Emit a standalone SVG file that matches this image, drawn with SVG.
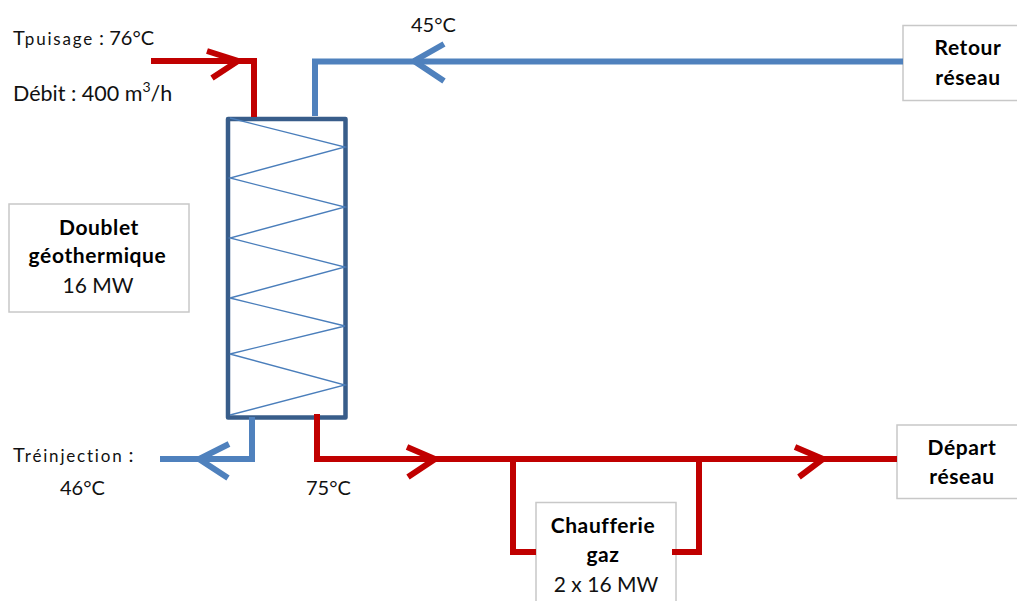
<svg xmlns="http://www.w3.org/2000/svg" width="1017" height="601" viewBox="0 0 1017 601">
<style>
text{font-family:Lato,"Liberation Sans",sans-serif;font-size:20px;fill:#111}
.b{font-size:21px;font-weight:700;text-anchor:middle;fill:#000;letter-spacing:.6px}
.m{font-size:21px;text-anchor:middle}
.s{font-size:17px;letter-spacing:1.800px}
.d{font-size:21.500px}
.sup{font-size:14px}
.box{fill:#fff;stroke:#c8c8c8;stroke-width:1.5}
.red,.blue{fill:none;stroke-width:6}
.red{stroke:#c00000}
.blue{stroke:#4f81bd}
.zig{fill:none;stroke:#4a7ebb;stroke-width:1.3}
.hx{fill:#fff;stroke:#385d8a;stroke-width:4.500;stroke-linejoin:round}
</style>
<g id="exchanger">
<rect class="hx" x="228" y="119" width="117.500" height="298.500"/>
<path class="zig" d="M230 118L345 147L230 178L345 207L230 238L345 267L230 298L345 326L230 354L345 385L230 415"/>
</g>
<g id="doublet">
<rect class="box" x="9" y="204" width="180" height="108"/>
<text class="b" x="99" y="235">Doublet</text>
<text class="b" x="97.500" y="263">géothermique</text>
<text class="m" x="98" y="293">16 MW</text>
</g>
<g id="retour">
<rect class="box" x="903" y="25.500" width="120" height="75"/>
<text class="b" x="968" y="55">Retour</text>
<text class="b" x="968" y="85">réseau</text>
</g>
<g id="depart">
<rect class="box" x="897" y="425" width="125" height="73.500"/>
<text class="b" x="962" y="455">Départ</text>
<text class="b" x="962" y="484">réseau</text>
</g>
<g id="chaufferie">
<rect class="box" x="536" y="502.500" width="140" height="105"/>
<text class="b" x="603" y="533">Chaufferie</text>
<text class="b" x="603" y="562">gaz</text>
<text class="m" x="606" y="592">2 x 16 MW</text>
</g>
<g id="connectors">
<path class="blue" d="M315 116V61.500H903"/>
<path class="blue" d="M414 61L444 44M414 61L444 81"/>
<path class="red" d="M151 61H254V117"/>
<path class="red" d="M207 51L238 61L212 78"/>
<path class="blue" d="M252 417V459H160"/>
<path class="blue" d="M229 444L199 459L228 478"/>
<path class="red" d="M317 414V459H897"/>
<path class="red" d="M407 447L435 459L408 477"/>
<path class="red" d="M795 447L823 459L799 477"/>
<path class="red" d="M513 459V552H536"/>
<path class="red" d="M699 459V552H672"/>
</g>
<g id="labels">
<text x="13" y="45">T<tspan class="s">puisage</tspan> : 76°C</text>
<text class="d" x="13" y="101">Débit : 400 m<tspan class="sup" dy="-9">3</tspan><tspan dy="9">/h</tspan></text>
<text x="411" y="32">45°C</text>
<text x="13" y="462">T<tspan class="s">réinjection</tspan> :</text>
<text x="60" y="495">46°C</text>
<text x="306" y="495">75°C</text>
</g>
</svg>
